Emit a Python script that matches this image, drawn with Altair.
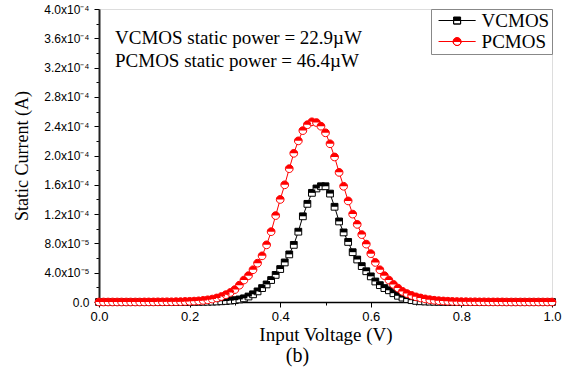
import altair as alt
import pandas as pd

# ---- data (current in units of 1e-5 A) ----
x_values = [round(i * 0.01, 2) for i in range(101)]

vcmos_e5 = [
    0.0, 0.0, 0.0, 0.0, 0.0, 0.0, 0.0, 0.0, 0.0, 0.0,          # 0.00-0.09
    0.0, 0.0, 0.0, 0.0, 0.0, 0.0, 0.0, 0.0, 0.0, 0.0,          # 0.10-0.19
    0.01, 0.01, 0.02, 0.03, 0.04, 0.05, 0.07, 0.10, 0.14, 0.19,  # 0.20-0.29
    0.25, 0.35, 0.50, 0.75, 1.05, 1.45, 1.9, 2.4, 3.0, 3.7,    # 0.30-0.39
    4.5, 5.4, 6.5, 7.8, 9.6, 11.7, 13.4, 14.9, 15.5, 15.8,     # 0.40-0.49
    15.8, 14.8, 13.0, 11.0, 9.5, 8.2, 6.8, 5.8, 4.9, 4.2,      # 0.50-0.59
    3.5, 2.8, 2.3, 1.9, 1.6, 1.2, 0.85, 0.6, 0.4, 0.25,        # 0.60-0.69
    0.15, 0.10, 0.07, 0.05, 0.03, 0.02, 0.01, 0.0, 0.0, 0.0,   # 0.70-0.79
    0.0, 0.0, 0.0, 0.0, 0.0, 0.0, 0.0, 0.0, 0.0, 0.0,          # 0.80-0.89
    0.0, 0.0, 0.0, 0.0, 0.0, 0.0, 0.0, 0.0, 0.0, 0.0,          # 0.90-0.99
    0.0,                                                        # 1.00
]

pcmos_e5 = [
    0.0, 0.0, 0.0, 0.0, 0.0, 0.0, 0.0, 0.0, 0.0, 0.0,          # 0.00-0.09
    0.01, 0.01, 0.01, 0.02, 0.02, 0.03, 0.03, 0.04, 0.05, 0.07,  # 0.10-0.19
    0.09, 0.12, 0.16, 0.22, 0.30, 0.40, 0.55, 0.75, 1.0, 1.3,  # 0.20-0.29
    1.7, 2.3, 3.0, 3.6, 4.4, 5.3, 6.3, 7.8, 9.6, 11.8,         # 0.30-0.39
    14.0, 16.0, 18.2, 20.3, 22.0, 23.4, 24.2, 24.6, 24.5, 24.0,  # 0.40-0.49
    23.1, 21.6, 19.8, 17.7, 15.8, 13.8, 12.0, 10.6, 9.2, 7.9,  # 0.50-0.59
    6.6, 5.4, 4.4, 3.6, 3.0, 2.4, 1.9, 1.45, 1.15, 0.9,        # 0.60-0.69
    0.7, 0.55, 0.42, 0.32, 0.24, 0.18, 0.14, 0.11, 0.08, 0.06,  # 0.70-0.79
    0.05, 0.04, 0.03, 0.03, 0.02, 0.02, 0.01, 0.01, 0.01, 0.01,  # 0.80-0.89
    0.0, 0.0, 0.0, 0.0, 0.0, 0.0, 0.0, 0.0, 0.0, 0.0,          # 0.90-0.99
    0.0,                                                        # 1.00
]

series_names = ["VCMOS", "PCMOS"]
series_colors = ["#000000", "#ff0000"]

x_tick_values = [round(i * 0.1, 1) for i in range(11)]
x_tick_labels = ["0.0", "", "0.2", "", "0.4", "", "0.6", "", "0.8", "", "1.0"]

y_tick_values = [i * 2e-5 for i in range(21)]
y_tick_labels = [
    "0.0", "", "4.0x10\u207b\u2075", "", "8.0x10\u207b\u2075", "",
    "1.2x10\u207b\u2074", "", "1.6x10\u207b\u2074", "", "2.0x10\u207b\u2074", "",
    "2.4x10\u207b\u2074", "", "2.8x10\u207b\u2074", "", "3.2x10\u207b\u2074", "",
    "3.6x10\u207b\u2074", "", "4.0x10\u207b\u2074",
]

annotations = [
    "VCMOS static power = 22.9\u00b5W",
    "PCMOS static power = 46.4\u00b5W",
]

# ---- build table ----
rows = []
for name, vals in zip(series_names, [vcmos_e5, pcmos_e5]):
    for xv, v in zip(x_values, vals):
        rows.append({"series": name, "x": xv, "y": v * 1e-5})
df = pd.DataFrame(rows)

SERIF = "Liberation Serif"
SANS = "Liberation Sans"

x_enc = alt.X(
    "x:Q",
    scale=alt.Scale(domain=[0, 1], nice=False),
    axis=alt.Axis(
        values=x_tick_values,
        labelExpr="[" + ",".join("'%s'" % s for s in x_tick_labels) + "][round(datum.value*10)]",
        tickSize={"condition": {"test": "round(datum.value*10) % 2 == 0", "value": 5}, "value": 3},
        title="Input Voltage (V)",
        titleFont=SERIF, titleFontSize=19, titleFontWeight="normal", titleColor="black",
        titlePadding=2,
        labelFont=SANS, labelFontSize=13, labelColor="black", labelPadding=3,
        labelFlush=False, labelOverlap=False,
        domainColor="black", domainWidth=1.5, tickColor="black", tickWidth=1,
        grid=False,
    ),
)
y_enc = alt.Y(
    "y:Q",
    scale=alt.Scale(domain=[0, 4e-4], nice=False),
    axis=alt.Axis(
        values=y_tick_values,
        labelExpr="[" + ",".join("'%s'" % s for s in y_tick_labels) + "][round(datum.value/2e-5)]",
        tickSize={"condition": {"test": "round(datum.value/2e-5) % 2 == 0", "value": 5}, "value": 3},
        title="Static Current (A)",
        titleFont=SERIF, titleFontSize=18, titleFontWeight="normal", titleColor="black",
        titlePadding=12,
        labelFont=SANS, labelFontSize=12, labelColor="black", labelPadding=5,
        labelFlush=False, labelOverlap=False,
        domainColor="#222222", domainWidth=2, tickColor="black", tickWidth=1,
        grid=False,
    ),
)

square_outline = "M -1 -1 H 1 V 1 H -1 Z"
square_top = "M -1 -1 H 1 V 0 H -1 Z"
circle_outline = "M -1 0 A 1 1 0 1 1 1 0 A 1 1 0 1 1 -1 0 Z"
circle_top = "M -1 0 A 1 1 0 0 1 1 0 Z"

legend_square = "M -5.3 0 H 5.3 M -1 -1 H 1 V 1 H -1 Z M -1 0 V 1 H 1 V 0 Z"
legend_circle = ("M -5.3 0 H 5.3 M -1.15 0 A 1.15 1.15 0 1 1 1.15 0 "
                 "A 1.15 1.15 0 1 1 -1.15 0 Z M -1.15 0 A 1.15 1.15 0 0 0 1.15 0 Z")


def series_layers(name, color, outline, top, size):
    base = alt.Chart(df).transform_filter(alt.datum.series == name)
    line = base.mark_line(color=color, strokeWidth=1).encode(x=x_enc, y=y_enc)
    out = base.mark_point(shape=outline, filled=True, fill="white", stroke=color,
                          strokeWidth=1, size=size, opacity=1).encode(x=x_enc, y=y_enc)
    half = base.mark_point(shape=top, filled=True, fill=color, strokeWidth=0,
                           size=size, opacity=1).encode(x=x_enc, y=y_enc)
    return [line, out, half]


layers = []
layers += series_layers("VCMOS", "#000000", square_outline, square_top, 46)
layers += series_layers("PCMOS", "#ff0000", circle_outline, circle_top, 60)

legend_cfg = alt.Legend(
    title=None, orient="top-right", offset=0,
    labelFont=SERIF, labelFontSize=19, labelColor="black", labelOffset=15,
    symbolOffset=14.6, symbolStrokeWidth=1, symbolSize=49,
    strokeColor="#888888", fillColor="white", padding=2, rowPadding=1,
)
legend_layer = (
    alt.Chart(df)
    .transform_filter("false")
    .mark_point(filled=True, size=49, strokeWidth=1, opacity=1)
    .encode(
        x=x_enc, y=y_enc,
        fill=alt.Fill("series:N", scale=alt.Scale(domain=series_names, range=series_colors), legend=legend_cfg),
        stroke=alt.Stroke("series:N", scale=alt.Scale(domain=series_names, range=series_colors), legend=legend_cfg),
        shape=alt.Shape("series:N", scale=alt.Scale(domain=series_names, range=[legend_square, legend_circle]), legend=legend_cfg),
    )
)
layers.append(legend_layer)

for i, txt in enumerate(annotations):
    t = (
        alt.Chart(pd.DataFrame({"t": [txt]}))
        .mark_text(font=SERIF, fontSize=19, align="left", baseline="alphabetic", color="black")
        .encode(text="t:N", x=alt.value(16), y=alt.value(35 + 23 * i))
    )
    layers.append(t)

chart = (
    alt.layer(*layers)
    .properties(
        width=453, height=293,
        autosize=alt.AutoSizeParams(type="none"),
        padding={"left": 99, "top": 9, "right": 13, "bottom": 68},
        title=alt.TitleParams("(b)", orient="bottom", anchor="middle", dx=-28, offset=2,
                              font=SERIF, fontSize=20, fontWeight="normal", color="black"),
    )
    .configure_view(stroke="black", strokeWidth=1.2)
    .configure(background="white")
)

chart.save("out.html", embed_options={"renderer": "svg", "actions": False})
